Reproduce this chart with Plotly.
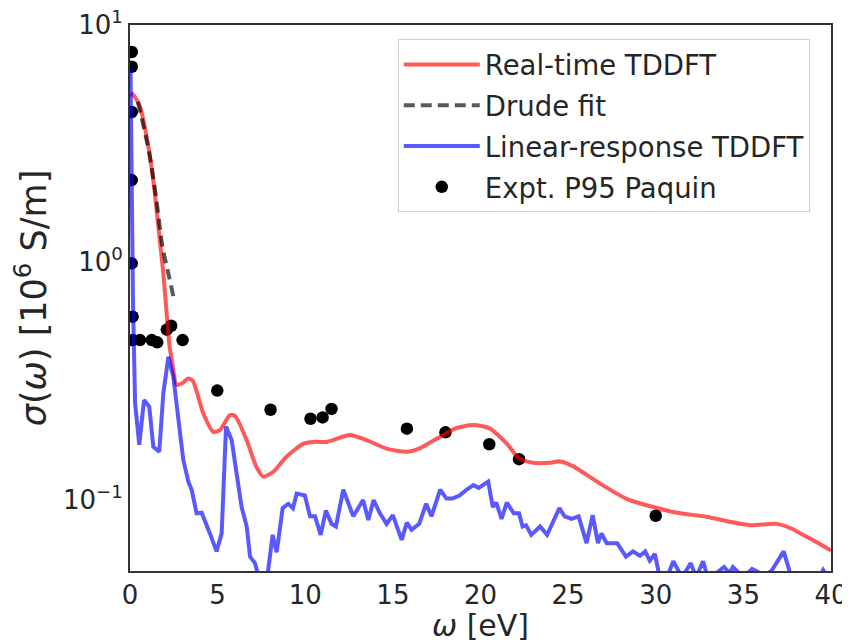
import plotly.graph_objects as go
import math

# Real-time TDDFT
rt_w = [0.05, 0.13, 0.3, 0.57, 0.95, 1.33, 1.62, 1.9, 2.09, 2.19, 2.28, 2.38, 2.66, 3.0, 3.33, 3.59, 4.18, 4.75, 5.13, 5.7, 6.0, 6.66, 7.2, 7.6, 8.18, 8.94, 9.9, 10.46, 11.2, 12.55, 13.5, 14.64, 15.8, 16.5, 17.7, 18.6, 19.6, 20.5, 21.5, 22.2, 23.0, 24.0, 24.5, 25.3, 26.8, 28.3, 29.8, 31.4, 32.9, 34.2, 35.4, 36.9, 37.7, 38.6, 40.0]
rt_s = [5.0, 5.15, 4.95, 4.53, 3.38, 2.22, 1.41, 0.90, 0.61, 0.50, 0.43, 0.39, 0.304, 0.31, 0.324, 0.316, 0.231, 0.193, 0.196, 0.227, 0.225, 0.178, 0.138, 0.125, 0.131, 0.152, 0.172, 0.175, 0.175, 0.187, 0.178, 0.164, 0.159, 0.164, 0.184, 0.200, 0.206, 0.200, 0.172, 0.149, 0.143, 0.143, 0.145, 0.138, 0.117, 0.101, 0.0933, 0.0875, 0.0847, 0.0807, 0.078, 0.079, 0.0757, 0.0698, 0.061]

# Drude fit
dr_w = [0.45, 0.8, 1.1, 1.48, 1.86, 2.2, 2.47]
dr_s = [4.75, 3.67, 2.88, 1.89, 1.16, 0.89, 0.72]

# Linear-response TDDFT
lr_w = [0.03, 0.06, 0.1, 0.17, 0.29, 0.53, 0.8, 1.1, 1.33, 1.67, 1.9, 2.19, 2.47, 2.76, 3.04, 3.33, 3.52, 3.8, 4.09, 4.56, 4.94, 5.23, 5.48, 5.8, 6.09, 6.37, 6.66, 6.85, 7.13, 7.32, 7.8, 8.14, 8.37, 8.71, 9.03, 9.3, 9.51, 9.98, 10.27, 10.56, 10.88, 11.18, 11.5, 11.75, 12.17, 12.74, 13.3, 13.6, 13.9, 14.26, 14.64, 15.0, 15.5, 15.8, 16.07, 16.5, 16.9, 17.2, 17.7, 18.06, 18.4, 18.8, 19.2, 19.6, 19.9, 20.44, 20.7, 20.9, 21.2, 21.5, 21.9, 22.2, 22.4, 22.6, 22.9, 23.4, 23.8, 24.1, 24.5, 24.8, 25.2, 25.6, 26.05, 26.4, 26.7, 26.9, 27.2, 27.8, 28.3, 28.7, 29.1, 29.4, 29.66, 29.95, 30.2, 30.6, 31.0, 31.5, 32.0, 32.3, 32.7, 33.0, 33.9, 34.2, 34.4, 35.0, 35.5, 36.2, 36.6, 37.3, 37.7, 38.5, 39.2, 39.55, 40.0]
lr_s = [6.5, 3.0, 1.2, 0.69, 0.255, 0.17, 0.263, 0.246, 0.167, 0.159, 0.28, 0.40, 0.33, 0.223, 0.147, 0.119, 0.11, 0.0875, 0.088, 0.072, 0.0605, 0.072, 0.203, 0.178, 0.129, 0.093, 0.077, 0.0575, 0.054, 0.048, 0.045, 0.071, 0.06, 0.092, 0.096, 0.092, 0.106, 0.104, 0.085, 0.085, 0.071, 0.090, 0.079, 0.077, 0.110, 0.085, 0.0996, 0.082, 0.0996, 0.0875, 0.079, 0.086, 0.0676, 0.080, 0.0745, 0.079, 0.096, 0.085, 0.110, 0.101, 0.101, 0.104, 0.110, 0.115, 0.112, 0.119, 0.093, 0.097, 0.083, 0.097, 0.0875, 0.0875, 0.077, 0.078, 0.071, 0.077, 0.071, 0.079, 0.092, 0.085, 0.083, 0.085, 0.0655, 0.086, 0.0655, 0.072, 0.0655, 0.0655, 0.0575, 0.0605, 0.058, 0.0605, 0.0553, 0.059, 0.048, 0.046, 0.055, 0.047, 0.054, 0.047, 0.055, 0.046, 0.052, 0.049, 0.052, 0.047, 0.051, 0.048, 0.05, 0.0605, 0.048, 0.04, 0.045, 0.0505, 0.045]

# Experiment (P95 Paquin)
ex_w = [0.1, 0.1, 0.1, 0.1, 0.1, 0.15, 0.15, 0.57, 1.24, 1.55, 2.1, 2.35, 3.0, 4.98, 8.02, 10.3, 10.99, 11.5, 15.8, 18.0, 20.5, 22.2, 30.0]
ex_s = [7.7, 6.67, 4.3, 2.22, 0.99, 0.59, 0.47, 0.47, 0.47, 0.46, 0.52, 0.54, 0.47, 0.288, 0.239, 0.219, 0.222, 0.241, 0.199, 0.192, 0.171, 0.148, 0.0855]

x_ticks = [0, 5, 10, 15, 20, 25, 30, 35, 40]
y_ticks = [0.1, 1, 10]
y_ticktext = ["10<sup>\u22121</sup>", "10<sup>0</sup>", "10<sup>1</sup>"]

FONT = "DejaVu Sans"
fig = go.Figure()

fig.add_trace(go.Scatter(x=ex_w, y=ex_s, mode="markers", name="Expt. P95 Paquin",
                         marker=dict(color="black", size=12.5), legendrank=4, legendgroup="d"))
fig.add_trace(go.Scatter(x=rt_w, y=rt_s, mode="lines", name="Real-time TDDFT",
                         line=dict(color="rgba(255,0,0,0.65)", width=4, shape="spline", smoothing=0.6),
                         legendrank=1, legendgroup="a"))
fig.add_trace(go.Scatter(x=dr_w, y=dr_s, mode="lines", name="Drude fit",
                         line=dict(color="rgba(0,0,0,0.65)", width=4, dash="11px,6px", shape="spline"),
                         legendrank=2, legendgroup="b"))
fig.add_trace(go.Scatter(x=lr_w, y=lr_s, mode="lines", name="Linear-response TDDFT",
                         line=dict(color="rgba(0,0,255,0.65)", width=4),
                         legendrank=3, legendgroup="c"))

axis_common = dict(showgrid=False, zeroline=False, showline=True, linecolor="#333333", linewidth=2,
                   mirror=True, ticks="", automargin=False, ticklabeloverflow="allow",
                   tickfont=dict(family=FONT, size=26, color="#262626"))

# page body adds an 8px offset, so the figure is sized to fit the window
fig.update_layout(
    width=842, height=635,
    margin=dict(l=122, r=19, t=17, b=72, autoexpand=False),
    plot_bgcolor="white", paper_bgcolor="white",
    font=dict(family=FONT, color="#262626"),
    xaxis=dict(range=[0, 40], tickvals=x_ticks,
               title=dict(text="<i>ω</i> [eV]", font=dict(family=FONT, size=30), standoff=6),
               **axis_common),
    yaxis=dict(type="log", range=[math.log10(0.05), 1.0001], tickvals=y_ticks, ticktext=y_ticktext,
               title=dict(text="<i>σ</i>(<i>ω</i>) [10<sup>6</sup> S/m]", font=dict(family=FONT, size=35), standoff=16),
               **axis_common),
    legend=dict(x=0.382, y=0.974, xanchor="left", yanchor="top",
                bgcolor="rgba(255,255,255,0.8)", bordercolor="#d0d0d0", borderwidth=1,
                font=dict(family=FONT, size=27.5, color="#262626"), tracegroupgap=2,
                traceorder="grouped", itemwidth=76),
    showlegend=True,
)

fig.write_html("out.html")
